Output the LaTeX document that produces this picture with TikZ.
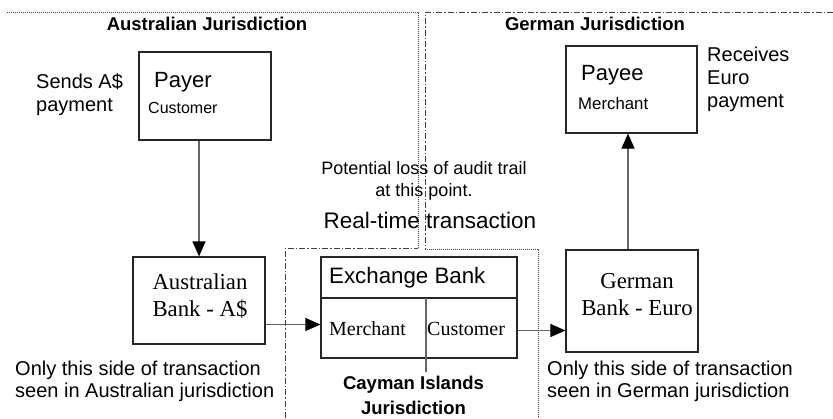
\documentclass[tikz,border=0pt]{standalone}
\usepackage{fontspec}
\setmainfont{Liberation Serif}
\setsansfont{Liberation Sans}
\usetikzlibrary{calc, arrows.meta, positioning}

\tikzset{
  box/.style={draw=black!85, line width=1.2pt, inner sep=0pt},
  flow/.style={line width=1.2pt, draw=black!60, -{Triangle[length=15pt,width=13pt,color=black]}},
  dotline/.style={draw=black!75, line width=0.9pt, dash pattern=on 1pt off 1pt},
  dashdotline/.style={draw=black!75, line width=0.9pt, dash pattern=on 6pt off 2pt on 1.5pt off 2pt},
  juris/.style={font=\sffamily\bfseries\fontsize{18.5}{25}\selectfont, align=center},
  note/.style={font=\sffamily\fontsize{20}{23}\selectfont, align=left},
  serif/.style={font=\rmfamily\fontsize{22.8}{27}\selectfont, align=center}
}

\begin{document}
\begin{tikzpicture}[x=1pt, y=-1pt]
    \useasboundingbox (0,0) rectangle (833,418);

    % jurisdiction borders
    \coordinate (AusTL) at (7,12);
    \coordinate (AusTR) at (418,12);
    \coordinate (AusBR) at (418,248);
    \coordinate (GerTL) at (425,12);
    \coordinate (GerBL) at (425,249);
    \coordinate (CayTL) at (285,248);
    \coordinate (CayTR) at (538,249);

    \draw[dotline] (AusTL) -- (AusTR) -- (AusBR);
    \draw[dashdotline] (833,12) -- (GerTL) -- (GerBL);
    \draw[dashdotline] (285,418) -- (CayTL) -- (AusBR);
    \draw[dotline] (GerBL) -- (CayTR) -- (538,418);

    \node[juris] (ausjur) at (207,24) {Australian Jurisdiction};
    \node[juris] (gerjur) at (595,24) {German Jurisdiction};
    \node[juris] (cayjur) at (413.5,395.5) {Cayman Islands\\Jurisdiction};

    % boxes
    \node[box, minimum width=132pt, minimum height=88pt] (payer) at (205,96) {};
    \node[box, minimum width=131pt, minimum height=87pt] (payee) at (631.5,89.5) {};
    \node[box, minimum width=132pt, minimum height=87pt] (ausbank) at (199,300.5) {};
    \node[box, minimum width=132pt, minimum height=102pt] (gerbank) at (632,301) {};
    \node[box, minimum width=196pt, minimum height=101pt] (exch) at (419,307.5) {};
    \coordinate (exchmid) at (426,298);
    \draw[box] (exch.west |- exchmid) -- (exch.east |- exchmid);
    \draw[draw=black!60, line width=1.2pt] (exchmid) -- (426,372);

    % box texts
    \node[anchor=west, inner sep=0pt, font=\sffamily\fontsize{22}{26}\selectfont] (payername) at (154,82) {Payer};
    \node[anchor=west, inner sep=0pt, font=\sffamily\fontsize{16}{19}\selectfont] (payerrole) at (148,108) {Customer};
    \node[anchor=west, inner sep=0pt, font=\sffamily\fontsize{22}{26}\selectfont] (payeename) at (581,75) {Payee};
    \node[anchor=west, inner sep=0pt, font=\sffamily\fontsize{16.8}{19}\selectfont] (payeerole) at (578,103) {Merchant};
    \node[serif] (ausbanktext) at (200,295.5) {Australian\\Bank - A\$};
    \node[serif] (gerbanktext) at (637,294.5) {German\\Bank - Euro};
    \node[anchor=west, inner sep=0pt, font=\sffamily\fontsize{22.3}{26}\selectfont] (exchname) at (329,278) {Exchange Bank};
    \node[anchor=west, inner sep=0pt, font=\rmfamily\fontsize{20}{24}\selectfont] (exchmerch) at (329,329) {Merchant};
    \node[anchor=west, inner sep=0pt, font=\rmfamily\fontsize{20}{24}\selectfont] (exchcust) at (427,329) {Customer};

    % side notes
    \node[note, anchor=west, inner sep=0pt] (sends) at (36,95) {Sends A\$\\payment};
    \node[note, anchor=west, inner sep=0pt] (receives) at (707,79.5) {Receives\\Euro\\payment};
    \node[note, anchor=west, inner sep=0pt, font=\sffamily\fontsize{20}{22}\selectfont] (ausside) at (15,381) {Only this side of transaction\\seen in Australian jurisdiction};
    \node[note, anchor=west, inner sep=0pt, font=\sffamily\fontsize{20}{22}\selectfont] (gerside) at (547,381) {Only this side of transaction\\seen in German jurisdiction};
    \node[align=center, inner sep=0pt, font=\sffamily\fontsize{18}{22}\selectfont] (loss) at (424,181) {Potential loss of audit trail\\at this point.};
    \node[inner sep=0pt, font=\sffamily\fontsize{22.5}{26}\selectfont] (realtime) at (430,220) {Real-time transaction};

    % payment flow
    \draw[flow] (ausbank.north |- payer.south) -- (ausbank.north);
    \draw[flow] ([yshift=-24pt]ausbank.east) -- ([yshift=-24pt]ausbank.east -| exch.west);
    \draw[flow] ([yshift=-23pt]exch.east) -- ([yshift=-23pt]exch.east -| gerbank.west);
    \draw[flow] ([xshift=-4pt]gerbank.north) -- ([xshift=-4pt]gerbank.north |- payee.south);
\end{tikzpicture}
\end{document}
